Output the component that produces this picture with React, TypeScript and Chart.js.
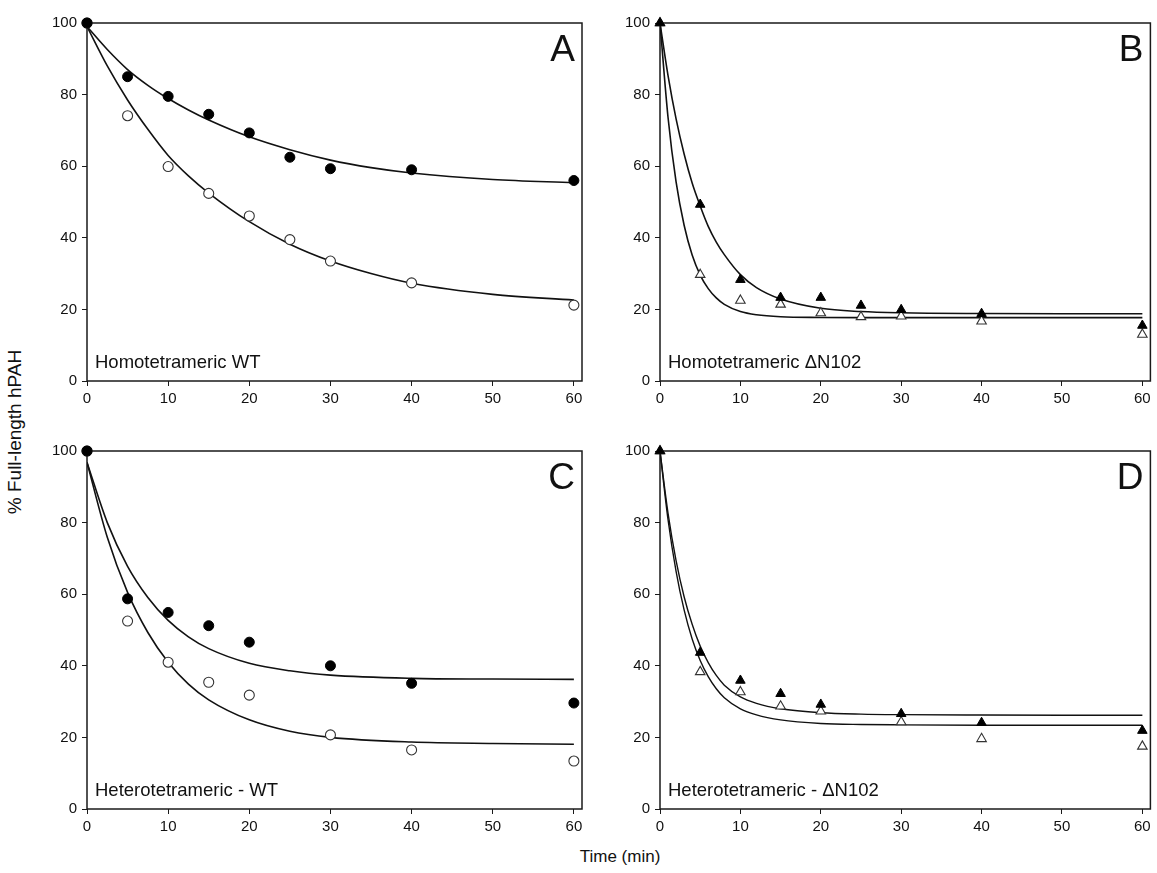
import React, { useEffect, useRef } from "react";
import { Chart, registerables } from "chart.js";

Chart.register(...registerables);

// ---------- data ----------
const xTicks = [0, 10, 20, 30, 40, 50, 60];
const yTicks = [0, 20, 40, 60, 80, 100];

// Panel A – Homotetrameric WT (circles)
const timesA = [0, 5, 10, 15, 20, 25, 30, 40, 60];
const aFilled = [100, 85, 79.5, 74.5, 69.3, 62.5, 59.3, 59, 56];
const aOpen = [100, 74.1, 59.9, 52.4, 46.1, 39.5, 33.5, 27.4, 21.2];
const fitTimesA = [0, 2.5, 5, 7.5, 10, 12.5, 15, 20, 25, 30, 35, 40, 50, 60];
const aFilledFit = [99, 92.6, 87.0, 82.6, 78.9, 75.7, 72.9, 68.2, 64.6, 61.7, 59.6, 58.1, 56.3, 55.4];
const aOpenFit = [99, 88, 78.5, 70.3, 63, 57.3, 52.5, 44.5, 38.2, 33.5, 30, 27.3, 24.2, 22.6];

// Panel B – Homotetrameric ΔN102 (triangles)
const timesB = [0, 5, 10, 15, 20, 25, 30, 40, 60];
const bFilled = [100, 49.3, 28.3, 23.3, 23.3, 21.1, 19.9, 18.8, 15.5];
const bOpen = [100, 29.7, 22.5, 21.4, 19.0, 17.9, 18.1, 16.7, 13.0];
const fitTimesFast = [0, 1, 2, 3, 4, 5, 6, 7, 8, 10, 12, 15, 20, 25, 30, 40, 50, 60];
const bFilledFit = [100, 85.3, 73.2, 63.4, 55.3, 48.9, 43.2, 38.8, 35.3, 29.7, 26.1, 22.9, 20.3, 19.4, 19.05, 18.85, 18.8, 18.8];
const bOpenFit = [100, 73.6, 55.6, 43.5, 35.2, 29.6, 25.8, 23.2, 21.4, 19.4, 18.5, 17.95, 17.75, 17.7, 17.7, 17.7, 17.7, 17.7];

// Panel C – Heterotetrameric - WT (circles)
const timesC = [0, 5, 10, 15, 20, 30, 40, 60];
const cFilled = [100, 58.7, 54.9, 51.2, 46.6, 40.0, 35.1, 29.6];
const cOpen = [100, 52.5, 41.0, 35.4, 31.8, 20.7, 16.5, 13.4];
const fitTimesC = [0, 2.5, 5, 7.5, 10, 12.5, 15, 20, 25, 30, 40, 50, 60];
const cFilledFit = [96.8, 80, 67.8, 59.1, 52.7, 48.1, 44.8, 40.7, 38.6, 37.4, 36.5, 36.3, 36.2];
const cOpenFit = [96.8, 75.9, 60.5, 49.3, 41, 34.9, 30.5, 24.9, 21.7, 20.0, 18.7, 18.3, 18.1];

// Panel D – Heterotetrameric - ΔN102 (triangles)
const timesD = [0, 5, 10, 15, 20, 30, 40, 60];
const dFilled = [100, 43.7, 35.9, 32.2, 29.2, 26.6, 24.1, 21.9];
const dOpen = [100, 38.3, 32.7, 28.7, 27.3, 24.3, 19.6, 17.5];
const dUpperFit = [100, 82.6, 69.4, 59.3, 51.6, 45.5, 40.9, 37.3, 34.6, 31.3, 29.5, 28.0, 26.9, 26.5, 26.35, 26.25, 26.2, 26.2];
const dLowerFit = [100, 80.8, 66.4, 55.6, 47.5, 41.5, 37, 33.6, 31.1, 28, 26.3, 24.9, 23.9, 23.6, 23.5, 23.4, 23.4, 23.4];

const X_MAX = 61;
const Y_MAX = 100;

// ---------- styling ----------
const FONT = "'Liberation Sans', Arial, Helvetica, sans-serif";
const INK = "#1a1a1a";
const Y_W = 48;
const X_H = 34;
const PAD_TOP = 12;

const pts = (xs: number[], ys: number[]) => xs.map((x, i) => ({ x, y: ys[i] }));

function markers(xs: number[], ys: number[], filled: boolean, style: string) {
  const tri = style === "triangle";
  return {
    data: pts(xs, ys),
    showLine: false,
    pointStyle: style,
    pointRadius: tri ? 5.5 : 5,
    pointBackgroundColor: filled ? "#000" : "#fff",
    pointBorderColor: filled ? "#000" : "#333",
    pointBorderWidth: filled ? 1 : 1.1,
    order: filled ? 0 : 1,
    clip: false,
  };
}

function curve(xs: number[], ys: number[], width = 1.6) {
  return {
    data: pts(xs, ys),
    showLine: true,
    pointRadius: 0,
    borderColor: "#111",
    borderWidth: width,
    cubicInterpolationMode: "monotone",
    fill: false,
    order: 2,
  };
}

type PanelCfg = {
  key: string;
  letter: string;
  label: string;
  left: number;
  top: number;
  width: number;
  height: number;
  padRight: number;
  datasets: any[];
};

const panels: PanelCfg[] = [
  {
    key: "A", letter: "A", label: "Homotetrameric WT",
    left: 87, top: 23, width: 495, height: 358, padRight: 10,
    datasets: [
      markers(timesA, aFilled, true, "circle"),
      markers(timesA, aOpen, false, "circle"),
      curve(fitTimesA, aFilledFit),
      curve(fitTimesA, aOpenFit),
    ],
  },
  {
    key: "B", letter: "B", label: "Homotetrameric \u0394N102",
    left: 660, top: 23, width: 495, height: 358, padRight: 2,
    datasets: [
      markers(timesB, bFilled, true, "triangle"),
      markers(timesB, bOpen, false, "triangle"),
      curve(fitTimesFast, bFilledFit),
      curve(fitTimesFast, bOpenFit),
    ],
  },
  {
    key: "C", letter: "C", label: "Heterotetrameric - WT",
    left: 87, top: 451, width: 495, height: 358, padRight: 10,
    datasets: [
      markers(timesC, cFilled, true, "circle"),
      markers(timesC, cOpen, false, "circle"),
      curve(fitTimesC, cFilledFit),
      curve(fitTimesC, cOpenFit),
    ],
  },
  {
    key: "D", letter: "D", label: "Heterotetrameric - \u0394N102",
    left: 660, top: 451, width: 495, height: 358, padRight: 2,
    datasets: [
      markers(timesD, dFilled, true, "triangle"),
      markers(timesD, dOpen, false, "triangle"),
      curve(fitTimesFast, dUpperFit, 1.4),
      curve(fitTimesFast, dLowerFit, 1.4),
    ],
  },
];

function Panel({ cfg }: { cfg: PanelCfg }) {
  const ref = useRef<HTMLCanvasElement>(null);
  const cw = Y_W + cfg.width + cfg.padRight;
  const ch = PAD_TOP + cfg.height + X_H;

  useEffect(() => {
    const canvas = ref.current;
    if (!canvas) return;
    const framePlugin = {
      id: "frame" + cfg.key,
      beforeDatasetsDraw(chart: any) {
        const { ctx, chartArea } = chart;
        const { left, right, top, bottom } = chartArea;
        ctx.save();
        ctx.strokeStyle = INK;
        ctx.lineWidth = 1.5;
        ctx.strokeRect(left, top, right - left, bottom - top);
        ctx.fillStyle = "#111";
        ctx.textBaseline = "alphabetic";
        ctx.font = `18.5px ${FONT}`;
        ctx.textAlign = "left";
        ctx.fillText(cfg.label, left + 8, bottom - 13);
        ctx.font = `37px ${FONT}`;
        ctx.textAlign = "right";
        ctx.fillText(cfg.letter, right - 7, top + 38);
        ctx.restore();
      },
    };

    const chart = new Chart(canvas, {
      type: "scatter",
      data: { datasets: cfg.datasets as any },
      options: {
        animation: false,
        responsive: false,
        maintainAspectRatio: false,
        devicePixelRatio: 1,
        layout: { padding: { top: PAD_TOP, right: cfg.padRight, left: 0, bottom: 0 } },
        plugins: { legend: { display: false }, tooltip: { enabled: false } },
        scales: {
          x: {
            type: "linear",
            min: 0,
            max: X_MAX,
            afterBuildTicks: (s: any) => {
              s.ticks = xTicks.map((v) => ({ value: v }));
            },
            afterFit: (s: any) => {
              s.height = X_H;
              s.paddingLeft = 0;
              s.paddingRight = 0;
            },
            grid: { display: true, drawOnChartArea: false, drawTicks: true, tickLength: 5, color: INK, lineWidth: 1 },
            border: { display: false },
            ticks: { color: "#111", font: { family: FONT, size: 15 }, padding: 4, maxRotation: 0, autoSkip: false },
          },
          y: {
            type: "linear",
            min: 0,
            max: Y_MAX,
            afterBuildTicks: (s: any) => {
              s.ticks = yTicks.map((v) => ({ value: v }));
            },
            afterFit: (s: any) => {
              s.width = Y_W;
              s.paddingTop = 0;
              s.paddingBottom = 0;
            },
            grid: { display: true, drawOnChartArea: false, drawTicks: true, tickLength: 5, color: INK, lineWidth: 1 },
            border: { display: false },
            ticks: { color: "#111", font: { family: FONT, size: 15 }, padding: 5, autoSkip: false },
          },
        },
      } as any,
      plugins: [framePlugin],
    });
    return () => chart.destroy();
  }, []);

  return (
    <canvas
      ref={ref}
      width={cw}
      height={ch}
      style={{ position: "absolute", left: cfg.left - Y_W, top: cfg.top - PAD_TOP, width: cw, height: ch }}
    />
  );
}

export default function App() {
  return (
    <div
      style={{
        position: "fixed",
        left: 0,
        top: 0,
        width: 1157,
        height: 873,
        overflow: "hidden",
        background: "#fff",
        fontFamily: FONT,
      }}
    >
      {panels.map((p) => (
        <Panel key={p.key} cfg={p} />
      ))}
      <div
        style={{
          position: "absolute",
          left: 15,
          top: 432,
          transform: "translate(-50%, -50%) rotate(-90deg)",
          whiteSpace: "nowrap",
          fontSize: 19,
          color: "#111",
        }}
      >
        % Full-length hPAH
      </div>
      <div
        style={{
          position: "absolute",
          left: 620,
          top: 857,
          transform: "translate(-50%, -50%)",
          whiteSpace: "nowrap",
          fontSize: 17,
          color: "#111",
        }}
      >
        Time (min)
      </div>
    </div>
  );
}
